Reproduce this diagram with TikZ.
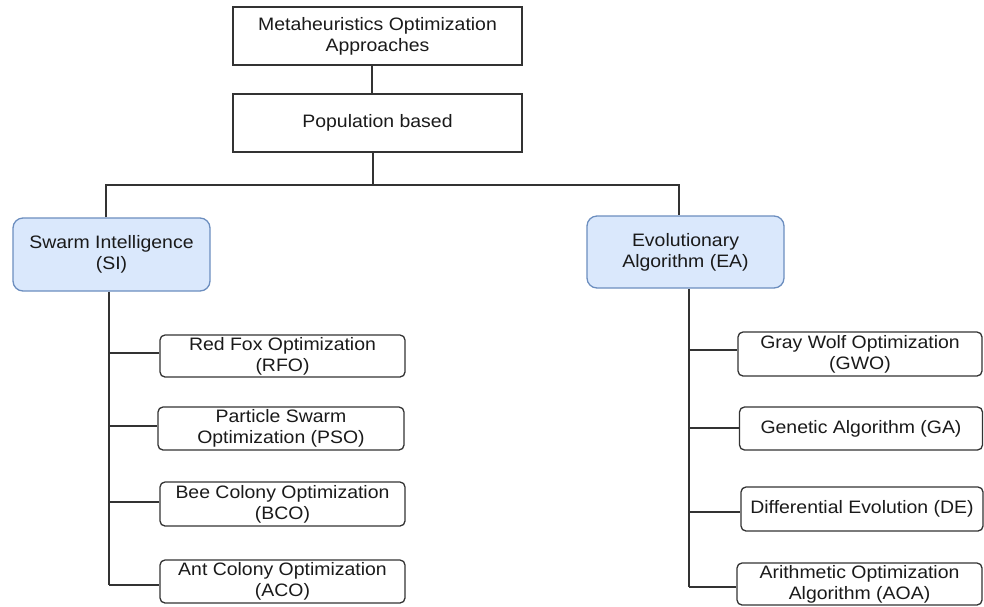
\documentclass[tikz,border=0pt]{standalone}
\usepackage{fontspec}
\setmainfont{Liberation Sans}[FakeStretch=1.08]
\definecolor{linec}{HTML}{333333}
\definecolor{txtc}{HTML}{1A1A1A}
\definecolor{bluefill}{HTML}{DAE8FC}
\definecolor{blueline}{HTML}{6C8EBF}
\begin{document}
\begin{tikzpicture}[x=1pt,y=-1pt,
  every node/.style={font=\fontsize{18}{21}\selectfont, text=txtc, align=center, inner sep=0pt},
  topbox/.style={draw=linec, line width=1.3pt, fill=white},
  catbox/.style={draw=blueline, line width=1.3pt, fill=bluefill, rounded corners=10pt},
  leafbox/.style={draw=linec, line width=1.3pt, fill=white, rounded corners=5pt},
  conn/.style={draw=linec, line width=1.3pt}
]
\useasboundingbox (0,0) rectangle (984,606);

% top boxes
\node[topbox, minimum width=289pt, minimum height=58pt] (meta) at (377.5,36) {Metaheuristics Optimization\\Approaches};
\node[topbox, minimum width=289pt, minimum height=58pt] (pop) at (377.5,123) {Population based};

% category boxes
\node[catbox, minimum width=197pt, minimum height=73pt] (si) at (111.5,254.5) {Swarm Intelligence\\(SI)};
\node[catbox, minimum width=197pt, minimum height=72pt] (ea) at (685.5,252) {Evolutionary\\Algorithm (EA)};

% SI leaves
\node[leafbox, minimum width=245pt, minimum height=42pt] (rfo) at (282.5,356) {Red Fox Optimization\\(RFO)};
\node[leafbox, minimum width=246pt, minimum height=43pt] (pso) at (281,428.5) {Particle Swarm\\Optimization (PSO)};
\node[leafbox, minimum width=245pt, minimum height=44pt] (bco) at (282.5,504) {Bee Colony Optimization\\(BCO)};
\node[leafbox, minimum width=245pt, minimum height=43pt] (aco) at (282.5,581.5) {Ant Colony Optimization\\(ACO)};

% EA leaves
\node[leafbox, minimum width=244pt, minimum height=44pt] (gwo) at (860,354) {Gray Wolf Optimization\\(GWO)};
\node[leafbox, minimum width=243pt, minimum height=43pt] (ga) at (861,428.5) {Genetic Algorithm (GA)};
\node[leafbox, minimum width=242pt, minimum height=44pt] (de) at (862,509) {Differential Evolution (DE)};
\node[leafbox, minimum width=245pt, minimum height=42pt] (aoa) at (859.5,584) {Arithmetic Optimization\\Algorithm (AOA)};

% junction coordinates
\coordinate (popdown) at (373,185);
\coordinate (hl) at (106,185);
\coordinate (hr) at (679,185);
\coordinate (sitrunk) at (109,291);
\coordinate (eatrunk) at (689,288);
\coordinate (j1) at (109,353);
\coordinate (j2) at (109,426);
\coordinate (j3) at (109,502);
\coordinate (j4) at (109,585);
\coordinate (k1) at (689,350);
\coordinate (k2) at (689,428);
\coordinate (k3) at (689,512);
\coordinate (k4) at (689,587);

% connectors
\draw[conn] (meta.south -| 372,0) -- (pop.north -| 372,0);
\draw[conn] (pop.south -| popdown) -- (popdown);
\draw[conn] (si.north -| hl) -- (hl) -- (hr) -- (ea.north -| hr);
\draw[conn] (si.south -| sitrunk) -- (j4);
\draw[conn] (ea.south -| eatrunk) -- (k4);
\draw[conn] (j1) -- (j1 -| rfo.west);
\draw[conn] (j2) -- (j2 -| pso.west);
\draw[conn] (j3) -- (j3 -| bco.west);
\draw[conn] (j4) -- (j4 -| aco.west);
\draw[conn] (k1) -- (k1 -| gwo.west);
\draw[conn] (k2) -- (k2 -| ga.west);
\draw[conn] (k3) -- (k3 -| de.west);
\draw[conn] (k4) -- (k4 -| aoa.west);
\end{tikzpicture}
\end{document}
